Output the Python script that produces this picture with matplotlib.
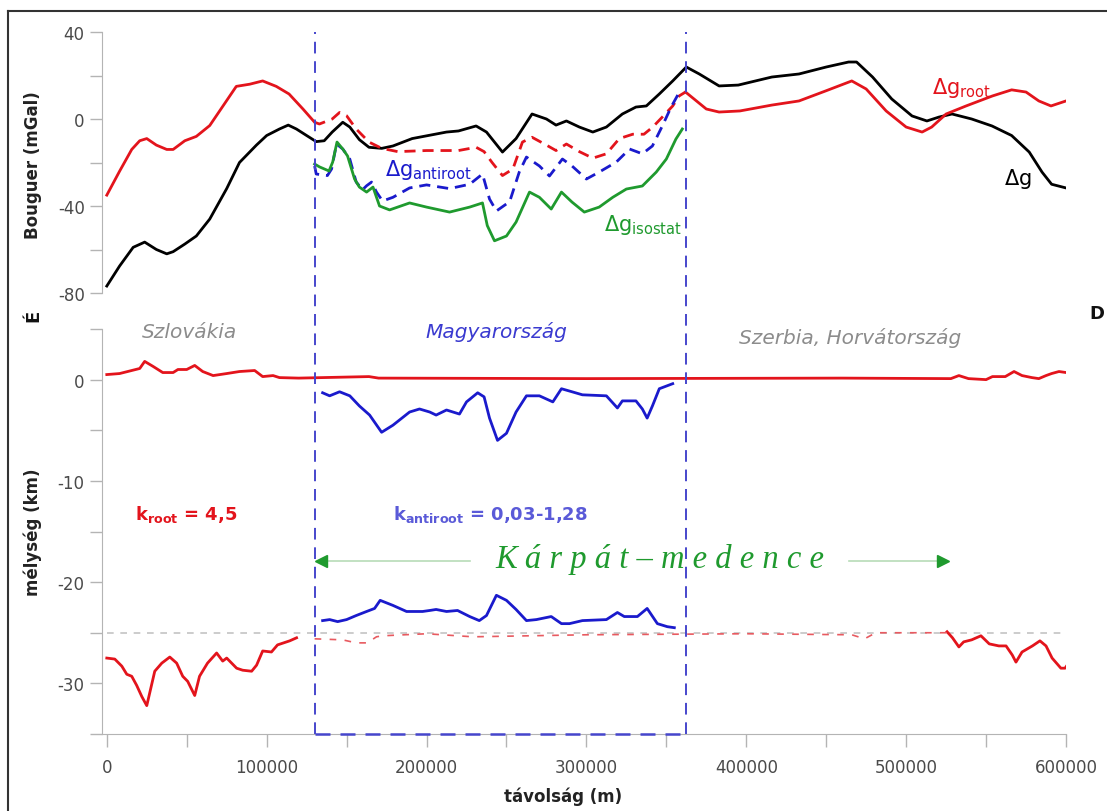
import numpy as np
import matplotlib.pyplot as plt
from matplotlib.lines import Line2D

# ---- top panel: Bouguer anomalies (mGal) ----
dg_x = [0, 8000, 16500, 23700, 31000, 37500, 41500, 48800, 56000, 64400, 75000, 83000,
        93600, 100000, 108000, 113500, 118600, 125000, 131000, 136000, 141000, 147600,
        152000, 158000, 164000, 172000, 179000, 191000, 212500, 220000, 231000, 237500,
        247500, 256000, 266000, 275000, 281000, 287500, 295600, 304000, 312500, 322500,
        331000, 337500, 345600, 354000, 362500, 370600, 383000, 395000, 416000, 433000,
        450000, 464000, 469000, 479000, 491000, 503700, 513000, 520600, 528700, 541000,
        553700, 566000, 577000, 585000, 591000, 600000]
dg_y = [-76.8, -67.6, -59, -56.6, -60, -62, -61, -57.5, -53.8, -46, -32, -20,
        -12, -7.6, -4.6, -2.8, -4.6, -7.6, -10.4, -10, -6, -1.5,
        -3.7, -9.5, -13, -13.5, -12.4, -9, -6, -5.5, -3.2, -6,
        -15.2, -9, 2.3, 0, -2.8, -0.9, -3.7, -6, -3.7, 2.3,
        5.5, 6, 11.5, 17.5, 23.9, 20.7, 15.2, 15.6, 19.3, 20.7,
        23.9, 26.2, 26.2, 19.3, 9.2, 1.4, -0.9, 0.9, 2.3, 0,
        -3.2, -7.6, -15.2, -24.4, -30, -31.7]

root_left_x = [0, 8000, 15600, 20600, 25000, 31000, 37500, 41500, 48800, 56000, 64400,
               72700, 81000, 89400, 97500, 106000, 114000, 122700, 130000]
root_left_y = [-35, -24, -14, -10, -9, -12, -14, -14, -10, -8, -3,
               6, 15, 16, 17.5, 15, 11.5, 4.6, -1.5]
root_mid_x = [130000, 133000, 141000, 145600, 150000, 156000, 164000, 172000, 182000,
              200000, 220000, 231000, 236000, 241000, 247500, 254000, 260000, 266000,
              275000, 281000, 287500, 295600, 304000, 312500, 320600, 329000, 336000,
              341500, 347500, 354000, 358000, 362000]
root_mid_y = [-1.5, -2.3, 0, 3, 1.5, -4.6, -10.6, -13.5, -15,
              -14.5, -14.5, -13, -15, -20, -26, -23, -10.6, -8.4,
              -12, -14.5, -11.5, -15, -18, -16, -9, -7, -7,
              -3.7, 0.9, 6, 10.6, 12.4]
root_right_x = [362000, 366000, 375000, 383000, 396000, 416000, 433000, 450000, 466000,
                475000, 487500, 500000, 510000, 516000, 525000, 537500, 554000, 566000,
                575000, 583000, 590600, 600000]
root_right_y = [12.4, 10, 4.6, 3.2, 3.7, 6.4, 8.3, 13, 17.5,
                13.8, 3.7, -3.7, -6, -3.7, 2.3, 6, 10.6, 13.4,
                12.4, 8.3, 6, 8.3]

antiroot_x = [130000, 131000, 138000, 140600, 143700, 147600, 152000, 156000, 160000,
              162500, 165600, 168700, 172500, 179000, 189400, 200000, 214400, 227000,
              235000, 239400, 243700, 252000, 258000, 262500, 270600, 276900, 285000,
              291000, 300000, 308000, 318700, 327000, 335000, 341300, 347500, 353000, 357500]
antiroot_y = [-21.6, -25.3, -26, -23, -11.5, -13.8, -18.4, -29, -32.5,
              -30.7, -29, -33.6, -37.7, -36, -31.7, -30.3, -32, -30,
              -25.3, -36.8, -42.3, -38, -24.4, -17.5, -21.6, -26.2, -18.4,
              -21.6, -27.6, -24.4, -19.8, -13.8, -16, -12.4, -3.2, 5.5, 11.5]

isostat_x = [130000, 133000, 139000, 141300, 144000, 147600, 150600, 155000, 158000,
             162500, 166500, 170600, 176900, 189400, 200000, 214400, 227000, 235000,
             238000, 242500, 250000, 256000, 264400, 270600, 278000, 284400, 291000,
             298700, 308000, 316500, 325000, 335000, 343700, 350000, 356000, 360000]
isostat_y = [-20.7, -22, -23.9, -19.8, -10.6, -13.8, -17, -27.6, -31.3,
             -33.6, -31.3, -40, -41.8, -38.6, -40.5, -42.8, -40.5, -38.6,
             -49, -56, -53.8, -47.4, -33.6, -36, -41.4, -33.6, -38.2,
             -42.8, -40.5, -36, -32.2, -30.8, -24.4, -18.4, -9.2, -4.6]

# ---- bottom panel: depth (km) ----
top_x = [0, 8000, 20600, 23700, 29000, 35000, 41500, 44500, 50000, 55000, 60000, 66500,
         75000, 83000, 92500, 97500, 104000, 108000, 120000, 164000, 170000, 300000,
         460000, 528000, 533000, 539000, 550000, 554000, 562000, 567500, 572500, 578700,
         583000, 587500, 591000, 595600, 600000]
top_y = [0.5, 0.6, 1.1, 1.8, 1.3, 0.7, 0.7, 1.0, 1.0, 1.4, 0.8, 0.4,
         0.6, 0.8, 0.9, 0.3, 0.4, 0.2, 0.15, 0.3, 0.15, 0.1,
         0.15, 0.1, 0.4, 0.1, 0.0, 0.3, 0.3, 0.8, 0.4, 0.2,
         0.1, 0.4, 0.6, 0.8, 0.7]

anti_top_x = [135000, 139400, 145600, 152000, 158000, 164400, 171900, 179000, 189400,
              195600, 202000, 206000, 212500, 220600, 225000, 232000, 236000, 239400,
              244400, 250000, 256000, 262500, 270600, 279000, 284400, 291000, 297500,
              312500, 319400, 322500, 331000, 335000, 338000, 341300, 345600, 354000]
anti_top_y = [-1.3, -1.6, -1.2, -1.6, -2.6, -3.5, -5.2, -4.5, -3.2,
              -2.9, -3.2, -3.5, -3.0, -3.4, -2.2, -1.3, -1.7, -3.8,
              -6.0, -5.3, -3.2, -1.6, -1.6, -2.2, -0.9, -1.2, -1.5,
              -1.6, -2.8, -2.1, -2.1, -2.9, -3.8, -2.6, -0.9, -0.4]

anti_base_x = [135000, 139400, 144400, 150000, 156000, 162500, 167500, 171000, 179000,
               187500, 197500, 202000, 206000, 212500, 219400, 227000, 233000, 237500,
               243700, 250000, 256000, 262500, 268700, 278000, 284400, 289400, 297500,
               312500, 319400, 323700, 331900, 338000, 344400, 350600, 355000]
anti_base_y = [-23.8, -23.7, -23.9, -23.7, -23.3, -22.9, -22.6, -21.8, -22.3,
               -22.9, -22.9, -22.8, -22.7, -22.9, -22.8, -23.4, -23.8, -23.3,
               -21.3, -21.8, -22.7, -23.8, -23.7, -23.4, -24.1, -24.1, -23.8,
               -23.7, -23.0, -23.4, -23.4, -22.6, -24.1, -24.4, -24.5]

moho_left_x = [0, 5000, 9400, 12500, 15600, 18700, 21900, 25000, 30000, 34400, 39400,
               43700, 47500, 50600, 55000, 58000, 63000, 68700, 72500, 75000, 81200,
               85000, 90600, 93700, 97500, 103000, 106800, 114400, 118700]
moho_left_y = [-27.5, -27.6, -28.3, -29.1, -29.3, -30.2, -31.3, -32.2, -28.8, -28, -27.4,
               -28, -29.3, -29.8, -31.2, -29.3, -28, -27, -27.8, -27.5, -28.5,
               -28.7, -28.8, -28.2, -26.8, -26.9, -26.2, -25.8, -25.5]
moho_mid_x = [130000, 147500, 156000, 163000, 168700, 172500, 200000, 229000, 300000,
              400000, 466000, 474000, 481000, 525600]
moho_mid_y = [-25.6, -25.7, -26.0, -26.0, -25.4, -25.3, -25.1, -25.4, -25.2,
              -25.1, -25.2, -25.6, -25.0, -25.0]
moho_right_x = [525600, 529000, 533000, 536000, 541000, 546800, 552000, 558000, 562500,
                566400, 568700, 572500, 579000, 583700, 587500, 591300, 596800, 599400, 601200]
moho_right_y = [-24.9, -25.5, -26.4, -25.9, -25.7, -25.3, -26.1, -26.3, -26.3,
                -27.2, -27.9, -26.9, -26.3, -25.8, -26.3, -27.5, -28.5, -28.5, -28.1]

ref_depth = -25
basin_x = [130000, 362000]

RED = '#e3141c'
BLUE = '#1a1acc'
GREEN = '#1f9a2e'
DBLUE = '#4646cc'
TICK = '#b4b4b4'

plt.rcParams['font.family'] = ['DejaVu Sans']
plt.rcParams['lines.solid_joinstyle'] = 'round'
plt.rcParams['lines.dash_joinstyle'] = 'round'
W, H = 1107, 812
fig = plt.figure(figsize=(W / 100, H / 100), dpi=100)

xl, xr = -3000, 600000
ax1 = fig.add_axes([102 / W, 1 - 294 / H, (1066 - 102) / W, (294 - 33) / H])
ax2 = fig.add_axes([102 / W, 1 - 735 / H, (1066 - 102) / W, (735 - 330) / H])

for ax in (ax1, ax2):
    ax.set_xlim(xl, xr)
    ax.patch.set_alpha(0)
    for s in ('top', 'right'):
        ax.spines[s].set_visible(False)
    ax.spines['left'].set_color(TICK)
    ax.spines['bottom'].set_color(TICK)
    ax.tick_params(colors=TICK, labelcolor='#4a4a4a', labelsize=12, length=9, width=1)

# top panel
lw = 2.0
ax1.plot(dg_x, dg_y, color='black', lw=lw)
ax1.plot(root_left_x, root_left_y, color=RED, lw=lw)
ax1.plot(root_mid_x, root_mid_y, color=RED, lw=lw, dashes=(4, 2.5))
ax1.plot(root_right_x, root_right_y, color=RED, lw=lw)
ax1.plot(antiroot_x, antiroot_y, color=BLUE, lw=lw, dashes=(4, 2.5))
ax1.plot(isostat_x, isostat_y, color=GREEN, lw=lw)
ax1.set_ylim(-80, 40)
ax1.spines['bottom'].set_visible(False)
ax1.set_xticks([])
ax1.set_yticks(np.arange(-80, 41, 20))
ax1.set_yticklabels([str(v) if v % 40 == 0 else '' for v in range(-80, 41, 20)])

ax1.text(516000, 14.5, r'$\Delta \mathregular{g}_{\mathregular{root}}$', color=RED, fontsize=15, va='center')
ax1.text(561000, -27, r'$\Delta \mathregular{g}$', color='black', fontsize=15, va='center')
ax1.text(174000, -23, r'$\Delta \mathregular{g}_{\mathregular{antiroot}}$', color=BLUE, fontsize=15, va='center')
ax1.text(311000, -48.5, r'$\Delta \mathregular{g}_{\mathregular{isostat}}$', color=GREEN, fontsize=15, va='center')

# bottom panel
ax2.plot(top_x, top_y, color=RED, lw=lw)
ax2.plot(anti_top_x, anti_top_y, color=BLUE, lw=lw)
ax2.plot(anti_base_x, anti_base_y, color=BLUE, lw=lw)
ax2.plot(moho_left_x, moho_left_y, color=RED, lw=lw)
ax2.plot(moho_right_x, moho_right_y, color=RED, lw=lw)
ax2.plot(moho_mid_x, moho_mid_y, color='#e85a60', lw=1.2, dashes=(4, 5))
ax2.plot([0, 600000], [ref_depth, ref_depth], color='#c4c4c4', lw=1.2, dashes=(4, 4), zorder=0)
ax2.set_ylim(-35, 5)
ax2.set_yticks(np.arange(-35, 6, 5))
ax2.set_yticklabels([str(v) if v % 10 == 0 else '' for v in range(-35, 6, 5)])
ax2.set_xticks(np.arange(0, 600001, 50000))
ax2.set_xticklabels([str(v) if v % 100000 == 0 else '' for v in range(0, 600001, 50000)])
ax2.tick_params(axis='x', pad=8)

# basin frame (dashed blue), spanning both panels
yb_top = 5 + (330 - 33) / ((735 - 330) / 40)
for xb in basin_x:
    ax2.plot([xb, xb], [-35, yb_top], color=DBLUE, lw=1.4, dashes=(6, 4), clip_on=False, zorder=5)
ax2.plot(basin_x, [-35, -35], color=DBLUE, lw=1.8, dashes=(6, 4), clip_on=False, zorder=5)

ax2.text(52000, 4.8, 'Szlovákia', color='#8c8c8c', fontsize=14.5, style='italic', ha='center', va='center')
ax2.text(244000, 4.8, 'Magyarország', color='#3a3ad0', fontsize=14.5, style='italic', ha='center', va='center')
ax2.text(465000, 4.2, 'Szerbia, Horvátország', color='#8c8c8c', fontsize=14.5, style='italic', ha='center', va='center')
ax2.text(17500, -13.2, r'k$_{\mathbf{root}}$ = 4,5', color=RED, fontsize=13, fontweight='bold', va='center')
ax2.text(179000, -13.2, r'k$_{\mathbf{antiroot}}$ = 0,03-1,28', color='#5a5ad8', fontsize=13, fontweight='bold', va='center')

ax2.text(346000, -17.7, 'K á r p á t – m e d e n c e', color=GREEN, fontsize=23.5, style='italic',
         family='Liberation Serif', ha='center', va='center')
ax2.plot([227000, 134000], [-17.9, -17.9], color='#b8dcb8', lw=1.2)
ax2.plot([134000], [-17.9], marker='<', color=GREEN, ms=8, clip_on=False)
ax2.plot([464000, 523000], [-17.9, -17.9], color='#b8dcb8', lw=1.2)
ax2.plot([523000], [-17.9], marker='>', color=GREEN, ms=8)

# axis labels
fig.text(33 / W, 1 - 165 / H, 'Bouguer (mGal)', rotation=90, ha='center', va='center',
         fontsize=12, fontweight='bold', color='#222222')
fig.text(33 / W, 1 - 532 / H, 'mélység (km)', rotation=90, ha='center', va='center',
         fontsize=12, fontweight='bold', color='#222222')
fig.text(563 / W, 1 - 797 / H, 'távolság (m)', ha='center', va='center',
         fontsize=12, fontweight='bold', color='#222222')
fig.text(33 / W, 1 - 316 / H, 'É', rotation=90, ha='center', va='center',
         fontsize=13, fontweight='bold', color='#111111')
fig.text(1097 / W, 1 - 314 / H, 'D', ha='center', va='center',
         fontsize=13, fontweight='bold', color='#111111')

# outer frame
fig.add_artist(Line2D([8 / W, 8 / W], [0, 1 - 12 / H], transform=fig.transFigure, color='#333333', lw=1.5))
fig.add_artist(Line2D([8 / W, 1], [1 - 12 / H, 1 - 12 / H], transform=fig.transFigure, color='#333333', lw=1.5))

fig.savefig('out.png', dpi=100)
